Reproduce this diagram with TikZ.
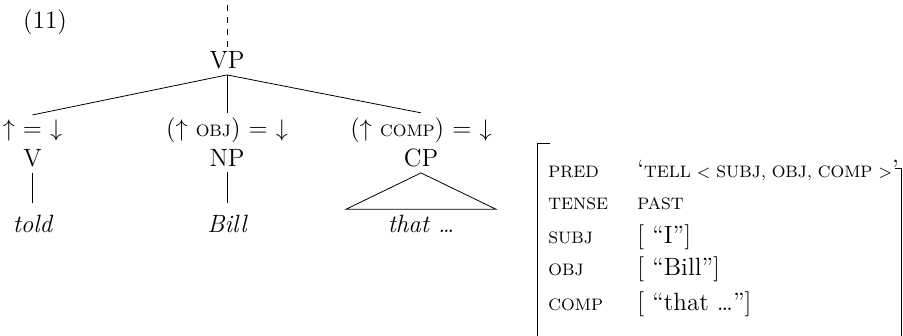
\documentclass[tikz,border=0pt]{standalone}
\newcommand{\exfont}{\fontsize{12.5}{15}\selectfont}
\newcommand{\feat}[1]{{\fontsize{8.3}{10}\selectfont #1}}
\begin{document}
\begin{tikzpicture}[x=0.5pt, y=-0.5pt,
    every node/.style={font=\exfont, inner sep=2.5pt},
    cat/.style={anchor=base},
    word/.style={anchor=base, font=\exfont\itshape},
    attr/.style={anchor=base west, inner sep=0pt},
    val/.style={anchor=base west, inner sep=0pt}]
    \useasboundingbox (0,0) rectangle (903,336);
    \node (exnum) at (45,22) {(11)};
    % Tree
    \coordinate (up) at (227,5);
    \node[cat] (vp) at (227,69) {VP};
    \draw[dashed] (up) -- (vp.north);
    \node[cat] (eqv) at (32.5,137) {$\uparrow$ = $\downarrow$};
    \node[cat] (eqnp) at (227,137) {($\uparrow$ \feat{OBJ}) = $\downarrow$};
    \node[cat] (eqcp) at (421,137) {($\uparrow$ \feat{COMP}) = $\downarrow$};
    \node[cat] (v) at (32.5,167) {V};
    \node[cat] (np) at (227,167) {NP};
    \node[cat] (cp) at (421,167) {CP};
    \node[word] (told) at (32.5,232) {told};
    \node[word] (bill) at (227,232) {Bill};
    \node[word] (that) at (421,232) {that \dots};
    \foreach \d in {eqv, eqnp, eqcp}
        \draw (vp.south) -- (\d.north);
    \draw (v.south) -- ([yshift=3pt]told.north);
    \draw (np.south) -- ([yshift=3pt]bill.north);
    \draw (cp.south) -- ([xshift=-37.5pt]that.north) -- ([xshift=37.5pt]that.north) -- cycle;
    % F-structure
    \coordinate (lbtop) at (537,143);
    \coordinate (rbtop) at (901.5,168);
    \draw (lbtop) ++(13,0) -- (lbtop) -- (537,340);
    \draw (rbtop) ++(-7,0) -- (rbtop) -- (901.5,340);
    \foreach \i/\y/\a/\v in {1/177/PRED/{`\feat{TELL < SUBJ, OBJ, COMP >}'},
                             2/209/TENSE/{\feat{PAST}},
                             3/243/SUBJ/{[ ``I'']},
                             4/275/OBJ/{[ ``Bill'']},
                             5/310/COMP/{[ ``that \dots'']}} {
        \node[attr] (a\i) at (548,\y) {\feat{\a}};
        \node[val] (v\i) at (637,\y) {\v};
    }
\end{tikzpicture}
\end{document}
